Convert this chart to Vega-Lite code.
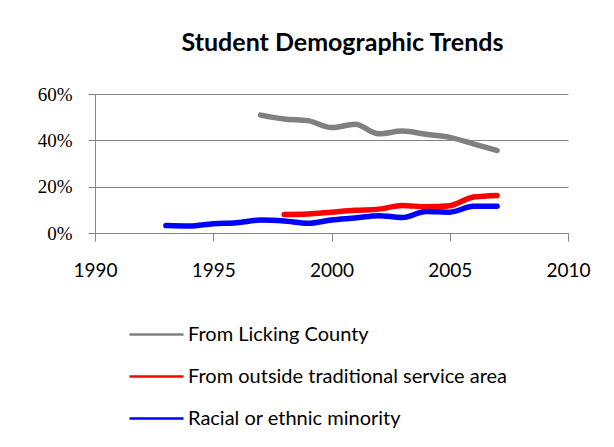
{
  "$schema": "https://vega.github.io/schema/vega-lite/v6.json",
  "width": 473,
  "height": 139,
  "autosize": {"type": "none"},
  "padding": {"left": 95, "top": 94, "right": 46, "bottom": 214},
  "background": "white",
  "title": {
    "text": "Student Demographic Trends",
    "font": "Lato",
    "fontSize": 25,
    "fontWeight": "bold",
    "color": "black",
    "frame": "group",
    "anchor": "middle",
    "baseline": "alphabetic",
    "offset": 9,
    "dx": 11
  },
  "data": {
    "values": [
      {"year": 1997, "group": "From Licking County", "pct": 0.509},
      {"year": 1998, "group": "From Licking County", "pct": 0.492},
      {"year": 1999, "group": "From Licking County", "pct": 0.485},
      {"year": 2000, "group": "From Licking County", "pct": 0.455},
      {"year": 2001, "group": "From Licking County", "pct": 0.469},
      {"year": 2002, "group": "From Licking County", "pct": 0.428},
      {"year": 2003, "group": "From Licking County", "pct": 0.44},
      {"year": 2004, "group": "From Licking County", "pct": 0.426},
      {"year": 2005, "group": "From Licking County", "pct": 0.413},
      {"year": 2006, "group": "From Licking County", "pct": 0.385},
      {"year": 2007, "group": "From Licking County", "pct": 0.356},
      {"year": 1998, "group": "From outside traditional service area", "pct": 0.08},
      {"year": 1999, "group": "From outside traditional service area", "pct": 0.082},
      {"year": 2000, "group": "From outside traditional service area", "pct": 0.09},
      {"year": 2001, "group": "From outside traditional service area", "pct": 0.098},
      {"year": 2002, "group": "From outside traditional service area", "pct": 0.103},
      {"year": 2003, "group": "From outside traditional service area", "pct": 0.119},
      {"year": 2004, "group": "From outside traditional service area", "pct": 0.113},
      {"year": 2005, "group": "From outside traditional service area", "pct": 0.118},
      {"year": 2006, "group": "From outside traditional service area", "pct": 0.155},
      {"year": 2007, "group": "From outside traditional service area", "pct": 0.162},
      {"year": 1993, "group": "Racial or ethnic minority", "pct": 0.032},
      {"year": 1994, "group": "Racial or ethnic minority", "pct": 0.03},
      {"year": 1995, "group": "Racial or ethnic minority", "pct": 0.04},
      {"year": 1996, "group": "Racial or ethnic minority", "pct": 0.044},
      {"year": 1997, "group": "Racial or ethnic minority", "pct": 0.056},
      {"year": 1998, "group": "Racial or ethnic minority", "pct": 0.052},
      {"year": 1999, "group": "Racial or ethnic minority", "pct": 0.042},
      {"year": 2000, "group": "Racial or ethnic minority", "pct": 0.056},
      {"year": 2001, "group": "Racial or ethnic minority", "pct": 0.065},
      {"year": 2002, "group": "Racial or ethnic minority", "pct": 0.075},
      {"year": 2003, "group": "Racial or ethnic minority", "pct": 0.067},
      {"year": 2004, "group": "Racial or ethnic minority", "pct": 0.093},
      {"year": 2005, "group": "Racial or ethnic minority", "pct": 0.09},
      {"year": 2006, "group": "Racial or ethnic minority", "pct": 0.115},
      {"year": 2007, "group": "Racial or ethnic minority", "pct": 0.115}
    ]
  },
  "mark": {"type": "line", "strokeWidth": 5.5, "interpolate": "monotone", "strokeCap": "round"},
  "encoding": {
    "x": {
      "field": "year",
      "type": "quantitative",
      "scale": {"domain": [1990, 2010], "nice": false, "zero": false},
      "axis": {
        "title": null,
        "values": [1990, 1995, 2000, 2005, 2010],
        "format": "d",
        "grid": false,
        "domainColor": "#868686",
        "tickColor": "#868686",
        "tickSize": 8,
        "labelPadding": 20,
        "labelFont": "Lato",
        "labelFontSize": 19,
        "labelColor": "black",
        "labelFlush": false
      }
    },
    "y": {
      "field": "pct",
      "type": "quantitative",
      "scale": {"domain": [0, 0.6], "nice": false},
      "axis": {
        "title": null,
        "values": [0, 0.2, 0.4, 0.6],
        "format": ".0%",
        "grid": true,
        "gridColor": "#868686",
        "domainColor": "#868686",
        "tickColor": "#868686",
        "tickSize": 7,
        "labelPadding": 16,
        "labelFont": "Liberation Serif",
        "labelFontSize": 19,
        "labelColor": "black"
      }
    },
    "color": {
      "field": "group",
      "type": "nominal",
      "scale": {
        "domain": ["From Licking County", "From outside traditional service area", "Racial or ethnic minority"],
        "range": ["#808080", "#ff0000", "#0000ff"]
      },
      "legend": {
        "title": null,
        "orient": "none",
        "legendX": 33,
        "legendY": 212,
        "direction": "vertical",
        "symbolType": "stroke",
        "symbolSize": 2916,
        "symbolStrokeWidth": 2.5,
        "labelFont": "Lato",
        "labelFontSize": 20,
        "labelColor": "black",
        "labelOffset": 3,
        "rowPadding": 3,
        "labelLimit": 400
      }
    }
  },
  "config": {
    "view": {"stroke": null}
  }
}
